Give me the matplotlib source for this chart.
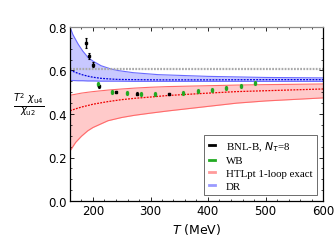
"""Ratio T^2 chi_u4 / chi_u2 versus temperature: lattice data vs HTLpt and DR."""
import matplotlib.pyplot as plt
import numpy as np
from matplotlib.ticker import MultipleLocator

# Lattice data (T in MeV, value, error)
bnl_T = [188, 193, 199.5, 211, 240, 277, 333]
bnl_val = [0.726, 0.666, 0.627, 0.527, 0.500, 0.494, 0.492]
bnl_err = [0.022, 0.015, 0.012, 0.007, 0.005, 0.005, 0.005]

wb_T = [208.5, 233, 258.5, 283, 308, 357, 382, 407, 431, 457, 482]
wb_val = [0.538, 0.500, 0.497, 0.492, 0.492, 0.497, 0.504, 0.510, 0.519, 0.530, 0.542]
wb_err = [0.010, 0.010, 0.008, 0.008, 0.008, 0.009, 0.009, 0.009, 0.009, 0.010, 0.010]

# HTLpt 1-loop exact band
htl_T = [160, 170, 180, 191, 200, 226, 250, 272, 300, 330, 400, 450, 500, 600]
htl_hi = [0.486, 0.491, 0.496, 0.500, 0.503, 0.510, 0.515, 0.519, 0.523, 0.526,
          0.530, 0.533, 0.535, 0.538]
htl_mid = [0.415, 0.424, 0.432, 0.439, 0.445, 0.457, 0.466, 0.472, 0.478, 0.485,
           0.496, 0.503, 0.507, 0.515]
htl_lo = [0.230, 0.270, 0.298, 0.323, 0.338, 0.369, 0.384, 0.394, 0.404, 0.414,
          0.435, 0.450, 0.460, 0.474]

# DR band
dr_T = [160, 165, 174, 182, 191, 200, 214, 230, 243, 270, 313, 400, 500, 600]
dr_hi = [0.800, 0.765, 0.722, 0.690, 0.661, 0.643, 0.622, 0.608, 0.600, 0.590,
         0.581, 0.573, 0.568, 0.566]
dr_mid = [0.602, 0.596, 0.587, 0.580, 0.574, 0.569, 0.564, 0.561, 0.559, 0.558,
          0.557, 0.557, 0.558, 0.558]
dr_lo = [0.554, 0.554, 0.553, 0.553, 0.552, 0.552, 0.551, 0.551, 0.551, 0.550,
         0.550, 0.550, 0.550, 0.550]

sb_limit = 6 / np.pi ** 2

fig = plt.figure(figsize=(3.35, 2.51), dpi=100)
ax = fig.add_axes([70 / 335, 1 - 202 / 251, 253 / 335, 174 / 251])

ax.fill_between(dr_T, dr_lo, dr_hi, color="#c8c8ff", lw=0)
ax.plot(dr_T, dr_hi, color="#6a6aff", lw=0.8)
ax.plot(dr_T, dr_lo, color="#6a6aff", lw=0.8)
ax.plot(dr_T, dr_mid, color="#0000dd", lw=0.9, ls=(0, (1.5, 1)))

ax.fill_between(htl_T, htl_lo, htl_hi, color="#ffcaca", lw=0)
ax.plot(htl_T, htl_hi, color="#ff6a6a", lw=0.8)
ax.plot(htl_T, htl_lo, color="#ff6a6a", lw=0.8)
ax.plot(htl_T, htl_mid, color="#ee0000", lw=0.9, ls=(0, (1.5, 1)))

ax.axhline(sb_limit, color="#aaaaaa", lw=1.6, ls=(0, (0.8, 0.6)))

ax.errorbar(bnl_T, bnl_val, yerr=bnl_err, fmt="s", ms=1.8, color="black",
            elinewidth=1.0, capsize=1.0, capthick=0.8)
ax.errorbar(wb_T, wb_val, yerr=wb_err, fmt="s", ms=1.8, color="#22aa22",
            elinewidth=1.0, capsize=1.0, capthick=0.8)

ax.set_xlim(160, 600)
ax.set_ylim(0, 0.8)
ax.xaxis.set_major_locator(MultipleLocator(100))
ax.xaxis.set_minor_locator(MultipleLocator(20))
ax.yaxis.set_major_locator(MultipleLocator(0.2))
ax.yaxis.set_minor_locator(MultipleLocator(0.05))
ax.tick_params(which="both", direction="in", top=True, right=True,
               labelsize=8.5, pad=2)
ax.tick_params(which="major", length=3, width=0.6)
ax.tick_params(which="minor", length=1.6, width=0.5)
ax.set_yticklabels([f"{v:.1f}" for v in ax.get_yticks()])
for s in ax.spines.values():
    s.set_linewidth(0.9)
ax.spines["top"].set_color("#888888")

ax.set_xlabel(r"$T$ (MeV)", fontsize=9, labelpad=3)
fig.text(0.085, 0.585, r"$\frac{T^2\ \chi_{\rm u4}}{\chi_{\rm u2}}$",
         fontsize=10, ha="center", va="center")

handles = [plt.Line2D([], [], color=c, lw=2)
           for c in ["black", "#22aa22", "#ff9a9a", "#9a9aff"]]
labels = [r"BNL-B, $N_\tau$=8", "WB", "HTLpt 1-loop exact", "DR"]
leg = ax.legend(handles, labels, loc="lower right",
                prop={"family": "Liberation Serif", "size": 7.8},
                handlelength=0.6, handletextpad=1.0, labelspacing=0.3,
                borderpad=0.4, borderaxespad=0.2, fancybox=False,
                framealpha=1, edgecolor="#555555",
                bbox_to_anchor=(0.985, 0.02))
leg.get_frame().set_linewidth(0.6)

fig.savefig("out.png", dpi=100)
